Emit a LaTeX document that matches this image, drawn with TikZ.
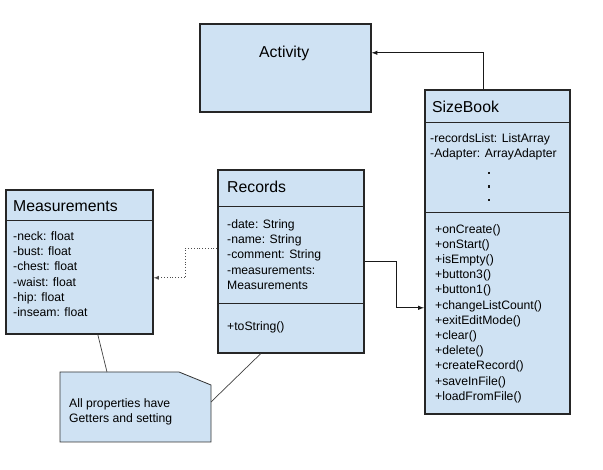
\documentclass[tikz,border=0pt]{standalone}
\usepackage{fontspec}
\setmainfont{Liberation Sans}
\usetikzlibrary{arrows}
\usetikzlibrary{calc}
\usetikzlibrary{positioning}
\definecolor{classfill}{HTML}{CFE2F3}

\begin{document}
\begin{tikzpicture}[
  x = 1pt, y = -1pt,
  > = latex,
  class/.style = {draw=black!85,line width=1.6pt,fill=classfill,anchor=north west,inner sep=0pt},
  ctitle/.style = {anchor=base west,inner sep=0pt,font=\fontsize{15.8}{18}\selectfont},
  cbody/.style = {anchor=north west,align=left,inner sep=0pt,font=\fontsize{12.2}{15.2}\selectfont},
  sep/.style = {draw=black!85,line width=1pt},
  link/.style = {draw=black!90,line width=1pt},
  dotmark/.style = {fill=black!90,inner sep=0pt,minimum size=2.8pt},
  note line/.style = {draw=black!75,line width=0.7pt}
  ]
  \useasboundingbox (0,0) rectangle (603,470);

  % classes
  \node[class,minimum width=171pt,minimum height=88pt] (activity) at (199,23) {};
  \node[ctitle] (activity-name) at (259,57.5) {Activity};

  \node[class,minimum width=145pt,minimum height=324pt] (sizebook) at (424,89) {};
  \node[ctitle] (sizebook-name) at (432,112.5) {SizeBook};
  \draw[sep] (sizebook.west |- 0,123) -- (sizebook.east |- 0,123);
  \draw[sep] (sizebook.west |- 0,213) -- (sizebook.east |- 0,213);
  \node[cbody] (sizebook-attr) at (430,133) {-recordsList: ListArray\\-Adapter: ArrayAdapter};
  \foreach \y [count=\i] in {173,186.5,200}
    \node[dotmark] (sizebook-dot\i) at (489,\y) {};
  \node[cbody] (sizebook-ops) at (435,224) {+onCreate()\\+onStart()\\+isEmpty()\\+button3()\\+button1()\\
    +changeListCount()\\+exitEditMode()\\+clear()\\+delete()\\+createRecord()\\+saveInFile()\\+loadFromFile()};

  \node[class,minimum width=147pt,minimum height=144pt] (measurements) at (5,189) {};
  \node[ctitle] (measurements-name) at (13,211.5) {Measurements};
  \draw[sep] (measurements.west |- 0,221) -- (measurements.east |- 0,221);
  \node[cbody] (measurements-attr) at (13,231.5) {-neck: float\\-bust: float\\-chest: float\\-waist: float\\-hip: float\\-inseam: float};

  \node[class,minimum width=146pt,minimum height=183pt] (records) at (217,169) {};
  \node[ctitle] (records-name) at (227,192.5) {Records};
  \draw[sep] (records.west |- 0,207) -- (records.east |- 0,207);
  \draw[sep] (records.west |- 0,304) -- (records.east |- 0,304);
  \node[cbody] (records-attr) at (227,219.5) {-date: String\\-name: String\\-comment: String\\-measurements:\\Measurements};
  \node[cbody] (records-ops) at (227,321) {+toString()};

  % note
  \coordinate (note-nw) at (60,372);
  \coordinate (note-fold) at (179,372);
  \coordinate (note-ne) at (211,385);
  \coordinate (note-se) at (211,442);
  \coordinate (note-sw) at (60,442);
  \coordinate (note-top) at (107,372);
  \coordinate (note-side) at (211,402);
  \draw[draw=black!80,line width=0.8pt,fill=classfill] (note-nw) -- (note-fold) -- (note-ne) -- (note-se) -- (note-sw) -- cycle;
  \node[cbody] (note) at (69,398.5) {All properties have\\Getters and setting};

  % connectors
  \draw[link,->] ([xshift=-13.5pt]sizebook.north) |- ([yshift=15pt]activity.east);
  \draw[link,->] (records.east) -- ++(32,0) |- ([yshift=-56pt]sizebook.west);
  \draw[draw=black!70,line width=0.8pt,dotted,->] ([yshift=12.5pt]records.west) -- ++(-32,0) |- ([yshift=-16pt]measurements.east);
  \draw[note line] ([xshift=18.5pt]measurements.south) -- (note-top);
  \draw[note line] ([xshift=-30pt]records.south) -- (note-side);
\end{tikzpicture}
\end{document}
